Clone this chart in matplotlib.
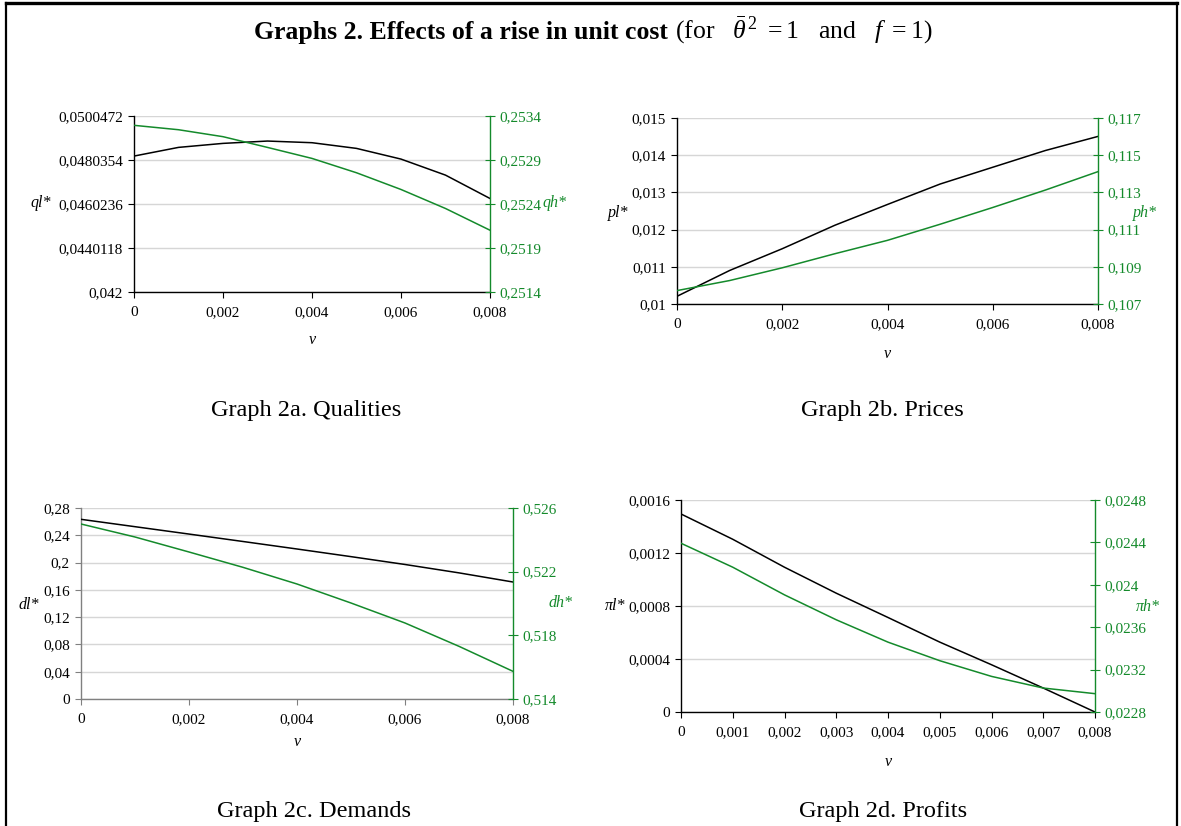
"""Graphs 2: effects of a rise in unit cost on qualities, prices, demands, profits."""

import matplotlib

matplotlib.use("Agg")
import matplotlib.pyplot as plt
from matplotlib.lines import Line2D
from matplotlib.text import Annotation
from matplotlib.ticker import FuncFormatter

plt.rcParams["font.family"] = ["Liberation Serif", "DejaVu Serif"]
plt.rcParams["mathtext.fontset"] = "custom"
plt.rcParams["mathtext.rm"] = "Liberation Serif"
plt.rcParams["mathtext.it"] = "Liberation Serif:italic"
plt.rcParams["mathtext.bf"] = "Liberation Serif:bold"

GREEN = "#148a2b"
GRID = "#d6d6d6"

# unit cost v
v = [0.0, 0.001, 0.002, 0.003, 0.004, 0.005, 0.006, 0.007, 0.008]

# Graph 2a: qualities
ql = [0.048215, 0.048612, 0.048795, 0.048902, 0.048826, 0.048566, 0.048077, 0.047344, 0.046276]
qh = [0.253294, 0.253244, 0.253165, 0.253043, 0.252918, 0.252755, 0.252565, 0.252349, 0.252102]
# Graph 2b: prices
pl = [0.010207, 0.010901, 0.011486, 0.012117, 0.012676, 0.013225, 0.013676, 0.014126, 0.014505]
ph = [0.107721, 0.108261, 0.108946, 0.109703, 0.110423, 0.111288, 0.112189, 0.113126, 0.114117]
# Graph 2c: demands
dl = [0.2634, 0.2526, 0.2418, 0.2309, 0.2199, 0.2087, 0.1972, 0.1849, 0.1715]
dh = [0.524995, 0.524178, 0.523236, 0.522272, 0.521225, 0.520031, 0.518775, 0.517309, 0.515738]
# Graph 2d: profits
pil = [0.0014945, 0.0013036, 0.0010926, 0.0008967, 0.0007133, 0.0005275, 0.0003567, 0.0001808, 0.0]
pih = [0.024392, 0.024166, 0.023905, 0.023670, 0.023459, 0.023284, 0.023136, 0.023026, 0.022973]

# axis ticks
a_left = [0.042, 0.0440118, 0.0460236, 0.0480354, 0.0500472]
a_right = [0.2514, 0.2519, 0.2524, 0.2529, 0.2534]
b_left = [0.010, 0.011, 0.012, 0.013, 0.014, 0.015]
b_right = [0.107, 0.109, 0.111, 0.113, 0.115, 0.117]
c_left = [0.0, 0.04, 0.08, 0.12, 0.16, 0.2, 0.24, 0.28]
c_right = [0.514, 0.518, 0.522, 0.526]
d_left = [0.0, 0.0004, 0.0008, 0.0012, 0.0016]
d_right = [0.0228, 0.0232, 0.0236, 0.024, 0.0244, 0.0248]
x_even = [0.0, 0.002, 0.004, 0.006, 0.008]
x_all = v

W, H = 1181, 826
TICK_FS = 11


def comma(x, _pos=None):
    return f"{x:g}".replace(".", ",")


def rect(left, top, right, bottom):
    """Pixel box -> figure fraction [l, b, w, h]."""
    return [left / W, 1 - bottom / H, (right - left) / W, (bottom - top) / H]


def panel(fig, box, yl, yr, lticks, rticks, xticks, llab, rlab, lpos, rpos, xlab_y,
          axis_color="black"):
    ax = fig.add_axes(rect(*box))
    ax.plot(v, yl, color="black", lw=1.1, zorder=3)
    ax.set_xlim(0, 0.008)
    ax.set_ylim(lticks[0], lticks[-1])
    ax.set_xticks(xticks)
    ax.set_yticks(lticks)
    ax.xaxis.set_major_formatter(FuncFormatter(comma))
    ax.yaxis.set_major_formatter(FuncFormatter(comma))
    ax.grid(axis="y", color=GRID, lw=1.0)
    ax.set_axisbelow(True)
    for side in ("top", "right"):
        ax.spines[side].set_visible(False)
    for side in ("left", "bottom"):
        ax.spines[side].set_color(axis_color)
        ax.spines[side].set_linewidth(1.0)
    ax.tick_params(direction="out", length=4, width=0.8, color=axis_color,
                   labelsize=TICK_FS, pad=4)
    ax.tick_params(axis="x", pad=6)

    ax.set_ylabel(llab, style="italic", fontsize=11.5, rotation=0, ha="center", va="center")
    ax.yaxis.set_label_coords(*lpos)
    ax.set_xlabel("v", style="italic", fontsize=11.5, va="center")
    ax.xaxis.set_label_coords(0.5, xlab_y)

    ax2 = ax.twinx()
    ax2.plot(v, yr, color=GREEN, lw=1.1)
    ax2.set_ylim(rticks[0], rticks[-1])
    ax2.set_yticks(rticks)
    ax2.yaxis.set_major_formatter(FuncFormatter(comma))
    for side in ("top", "left", "bottom"):
        ax2.spines[side].set_visible(False)
    ax2.spines["right"].set_color(GREEN)
    ax2.spines["right"].set_linewidth(1.0)
    ax2.tick_params(axis="y", direction="inout", length=7, width=0.8, color=GREEN,
                    labelcolor=GREEN, labelsize=TICK_FS, pad=3)
    ax2.set_ylabel(rlab, style="italic", fontsize=11.5, color=GREEN, rotation=0,
                   ha="center", va="center")
    ax2.yaxis.set_label_coords(*rpos)
    return ax, ax2


fig = plt.figure(figsize=(W / 100, H / 100), dpi=100)

# page frame (open at the bottom)
frame = dict(color="black", transform=fig.transFigure)
fig.add_artist(Line2D([6 / W, 6 / W], [0, 1 - 3 / H], lw=1.6, **frame))
fig.add_artist(Line2D([1177 / W, 1177 / W], [0, 1 - 3 / H], lw=1.6, **frame))
fig.add_artist(Line2D([6 / W, 1177 / W], [1 - 3 / H, 1 - 3 / H], lw=2.4, **frame))

# title: bold part, then the plain "(for ...)" part on the same baseline
title_y = 1 - 39 / H
t1 = fig.text(254 / W, title_y, "Graphs 2. Effects of a rise in unit cost",
              ha="left", va="baseline", fontsize=18.5, weight="bold")
note = Annotation(r"(for   $\bar{\theta}^{\,2}$ $=$1   and   $f$ $=$1)",
                  xy=(1, title_y), xycoords=(t1, "figure fraction"),
                  xytext=(5, 0), textcoords="offset points",
                  ha="left", va="baseline", fontsize=18.5)
fig.add_artist(note)

panel(fig, (134, 116, 490, 292), ql, qh, a_left, a_right, x_even,
      "ql*", "qh*", (-0.261, 0.506), (1.18, 0.506), -0.273)
panel(fig, (677, 118, 1098, 304), pl, ph, b_left, b_right, x_even,
      "pl*", "ph*", (-0.140, 0.489), (1.112, 0.489), -0.27)
panel(fig, (81, 508, 513, 699), dl, dh, c_left, c_right, x_even,
      "dl*", "dh*", (-0.120, 0.492), (1.111, 0.503), -0.225, axis_color="#808080")
panel(fig, (681, 500, 1095, 712), pil, pih, d_left, d_right, x_all,
      "πl*", "πh*", (-0.158, 0.5), (1.128, 0.495), -0.236)

subtitles = ["Graph 2a. Qualities", "Graph 2b. Prices", "Graph 2c. Demands", "Graph 2d. Profits"]
sub_xy = [(306, 410), (882, 410), (314, 812), (883, 812)]
for s, (x, y) in zip(subtitles, sub_xy):
    fig.text(x / W, 1 - y / H, s, ha="center", va="center", fontsize=17.5)

fig.savefig("out.png", dpi=100)
